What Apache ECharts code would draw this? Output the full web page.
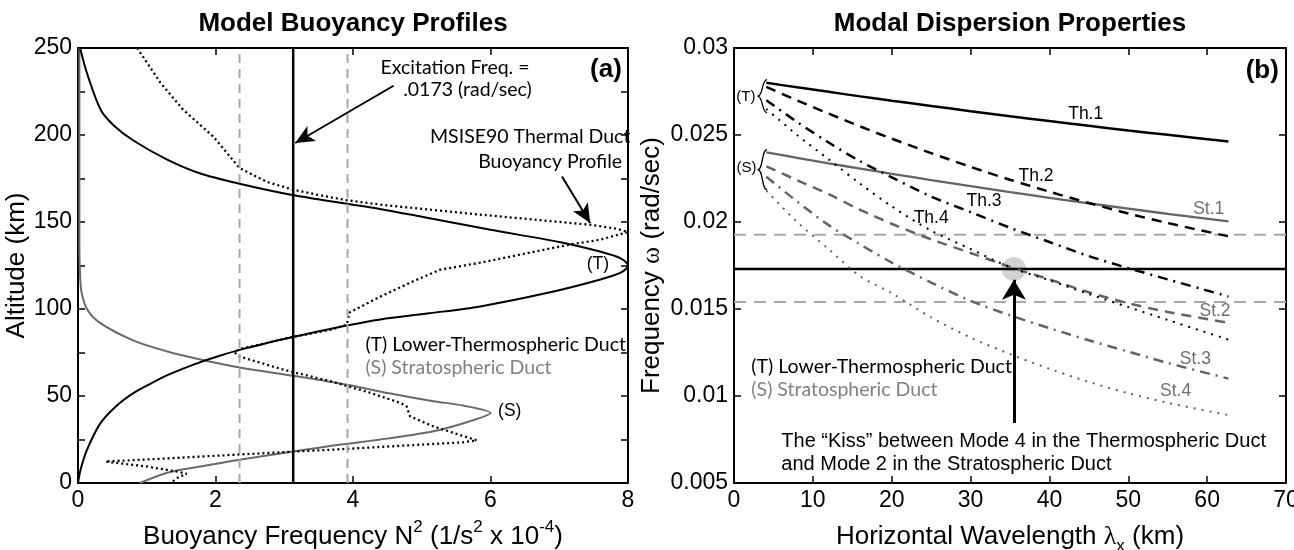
<!DOCTYPE html>
<html>
<head>
<meta charset="utf-8">
<script src="https://cdn.jsdelivr.net/npm/echarts@6/dist/echarts.min.js"></script>
<style>
html, body { margin: 0; padding: 0; background: #fff; }
#chart { width: 1294px; height: 550px; }
</style>
</head>
<body>
<div id="chart"></div>
<script>
// ---- (a) buoyancy profiles: N^2 (x 1e-4 1/s^2) against altitude (km)
const altRange = [0, 250]
const tDuctN2 = [0.03, 0.13, 0.33, 0.52, 0.8, 1.29, 1.77, 2.35, 3.12, 3.91, 4.39, 5.0, 6.0, 7.0, 7.59, 7.9, 8.0, 7.9, 7.6, 6.8, 5.85, 5.1, 4.4, 3.91, 3.14, 2.75, 2.35, 2.05, 1.78, 1.55, 1.3, 1.05, 0.8, 0.55, 0.32, 0.13, 0.04, 0]
const tDuctAlt = [250, 235.6, 214.5, 205.5, 197, 186, 178, 172, 165.5, 160.5, 157.5, 153, 145.5, 138.5, 133, 129, 125, 121, 117, 109, 101.5, 97.5, 94, 90.5, 84, 80.5, 76.5, 73, 69.5, 66, 62, 57, 51.5, 44, 34, 19, 8, 0]
const sDuctN2 = [0.02, 0.02, 0.03, 0.05, 0.13, 0.32, 0.8, 1.3, 1.78, 2.35, 3.15, 3.91, 4.6, 5.17, 5.6, 6.0, 5.7, 5.17, 4.5, 3.8, 3.15, 2.35, 1.78, 1.3, 0.9]
const sDuctAlt = [250, 135, 120, 110, 100, 92, 82, 75.6, 71, 66.4, 61.5, 56.5, 51, 47, 44.5, 40.2, 35.5, 29.7, 25.5, 22, 18.2, 13.4, 9.5, 5.9, 0]
const msisN2 = [0.86, 1.2, 1.53, 1.97, 2.35, 2.75, 3.13, 3.5, 3.91, 4.5, 5.65, 6.6, 7.45, 7.85, 8.0, 7.59, 7.15, 5.85, 5.27, 4.88, 4.39, 3.95, 3.91, 3.67, 3.13, 2.75, 2.35, 2.28, 2.33, 2.45, 3.0, 3.67, 4.2, 4.69, 4.78, 4.83, 5.17, 5.8, 5.6, 3.67, 2.35, 1.0, 0.4, 0.5, 1.0, 1.45, 1.58, 1.45, 1.35]
const msisAlt = [250, 230, 214.5, 199, 181, 173, 168.6, 165.5, 162.5, 159.5, 155, 151.5, 148.4, 146, 144.2, 139.8, 137, 126.6, 122.6, 116, 107, 98, 91, 88, 84, 80.5, 77, 75, 73, 71.5, 65, 58.5, 52.5, 46, 44, 38.3, 32.5, 24.5, 23.4, 19.1, 16.4, 13.5, 12.4, 11.8, 9.5, 6.5, 5.3, 3, 0]
const excitationN2 = 3.13
const boundN2 = [2.35, 3.92]

// ---- (b) modal dispersion: frequency (rad/sec) against horizontal wavelength (km)
const lambdaRange = [0, 70]
const lambdaKm = [4.1, 8, 12, 16, 20, 25, 30, 35, 40, 45, 50, 55, 62.7]
const th1 = [0.0280, 0.02774, 0.02748, 0.02722, 0.02697, 0.02667, 0.02637, 0.02608, 0.0258, 0.02553, 0.02526, 0.02501, 0.02463]
const th2 = [0.02776, 0.02699, 0.02623, 0.02549, 0.02479, 0.02396, 0.02317, 0.02243, 0.02174, 0.02109, 0.02049, 0.01994, 0.01918]
const th3 = [0.0270, 0.02575, 0.02457, 0.02349, 0.02257, 0.02146, 0.02057, 0.01967, 0.01885, 0.01804, 0.01735, 0.0167, 0.01572]
const th4 = [0.0265, 0.0250, 0.0236, 0.0222, 0.0209, 0.0195, 0.01845, 0.0174, 0.01665, 0.01586, 0.01511, 0.01437, 0.01324]
const st1 = [0.0240, 0.02369, 0.02337, 0.02307, 0.02277, 0.02241, 0.02206, 0.02172, 0.02139, 0.02107, 0.02077, 0.02047, 0.02004]
const st2 = [0.0232, 0.0224, 0.0216, 0.0207, 0.0199, 0.0190, 0.01822, 0.01742, 0.0167, 0.01596, 0.01533, 0.01483, 0.0142]
const st3 = [0.0226, 0.02118, 0.01982, 0.01871, 0.01767, 0.01652, 0.01547, 0.01464, 0.0139, 0.0132, 0.01255, 0.0119, 0.0110]
const st4 = [0.0218, 0.0200, 0.01844, 0.01688, 0.01591, 0.01452, 0.01336, 0.01241, 0.01156, 0.01081, 0.01016, 0.00961, 0.0089]
const excitationOmega = 0.0173
const boundOmega = [0.0154, 0.01927]
const kissPoint = [35.5, 0.0173]

const HV = 'Liberation Sans, Arial, sans-serif'
const MY = 'Lato, Open Sans, sans-serif'
const GRAY = '#646464'

const zip = (xs, ys) => xs.map((x, i) => [x, ys[i]])

function valueAxis (grid, pos, min, max, interval, showLabel, fmt) {
  return {
    type: 'value', gridIndex: grid, position: pos, min, max, interval,
    axisLine: { onZero: false, lineStyle: { color: '#000', width: 2 } },
    axisTick: { inside: true, length: 7, lineStyle: { color: '#000', width: 1.5 } },
    axisLabel: { show: showLabel, color: '#000', fontFamily: HV, fontSize: 23, margin: 6, formatter: fmt },
    splitLine: { show: false }
  }
}

function line (ax, data, color, width, type, smooth) {
  return {
    type: 'line', xAxisIndex: ax, yAxisIndex: ax, data, symbol: 'none', smooth: smooth || false,
    lineStyle: { color, width, type: type || 'solid' }, silent: true, z: 3
  }
}

const arrowLine = (coords, size, w) => ({
  silent: true, symbol: ['none', 'arrow'], symbolSize: size,
  label: { show: false }, lineStyle: { color: '#000', width: w, type: 'solid' },
  data: coords.map(c => [{ coord: c[0] }, { coord: c[1] }])
})

const xA = valueAxis(0, 'bottom', 0, 8, 2, true)
xA.name = '{a|Buoyancy Frequency N}{s|2}{a| (1/s}{s|2}{a| x 10}{s|-4}{a|)}'
xA.nameLocation = 'middle'
xA.nameGap = 36
xA.nameTextStyle = {
  rich: {
    a: { fontFamily: HV, fontSize: 26, lineHeight: 36, color: '#000' },
    s: { fontFamily: HV, fontSize: 17, lineHeight: 22, verticalAlign: 'top', color: '#000' }
  }
}
const yA = valueAxis(0, 'left', 0, 250, 25, true, v => (v % 50 === 0 ? String(v) : ''))
yA.name = 'Altitude (km)'
yA.nameLocation = 'middle'
yA.nameGap = 43
yA.nameTextStyle = { fontFamily: HV, fontSize: 26, color: '#000' }

const xB = valueAxis(1, 'bottom', 0, 70, 10, true)
xB.name = '{a|Horizontal Wavelength }{l|λ}{b|x}{a| (km)}'
xB.nameLocation = 'middle'
xB.nameGap = 36
xB.nameTextStyle = {
  rich: {
    a: { fontFamily: HV, fontSize: 26, lineHeight: 36, color: '#000' },
    l: { fontFamily: 'Liberation Serif, serif', fontSize: 26, lineHeight: 36, color: '#000' },
    b: { fontFamily: HV, fontSize: 17, lineHeight: 17, verticalAlign: 'bottom', color: '#000' }
  }
}
const yB = valueAxis(1, 'left', 0.005, 0.03, 0.005, true, v => String(+v.toFixed(3)))
yB.name = '{a|Frequency }{w|ω}{a| (rad/sec)}'
yB.nameLocation = 'middle'
yB.nameGap = 69
yB.nameTextStyle = {
  rich: {
    a: { fontFamily: HV, fontSize: 26, color: '#000' },
    w: { fontFamily: 'Liberation Serif, serif', fontSize: 26, color: '#000' }
  }
}

const option = {
  animation: false,
  backgroundColor: '#fff',
  title: [
    { text: 'Model Buoyancy Profiles', left: 353, top: 11, textAlign: 'center', padding: 0,
      textStyle: { fontFamily: HV, fontSize: 26, fontWeight: 'bold', color: '#000' } },
    { text: 'Modal Dispersion Properties', left: 1010, top: 11, textAlign: 'center', padding: 0,
      textStyle: { fontFamily: HV, fontSize: 26, fontWeight: 'bold', color: '#000' } }
  ],
  grid: [
    { left: 78, top: 48, width: 550, height: 435, containLabel: false, outerBoundsMode: 'none' },
    { left: 734, top: 48, width: 552, height: 435, containLabel: false, outerBoundsMode: 'none' }
  ],
  xAxis: [xA, valueAxis(0, 'top', 0, 8, 2, false), xB, valueAxis(1, 'top', 0, 70, 10, false)],
  yAxis: [yA, valueAxis(0, 'right', 0, 250, 25, false), yB, valueAxis(1, 'right', 0.005, 0.03, 0.005, false)],
  series: [
    // panel (a)
    line(0, zip(sDuctN2, sDuctAlt), '#6a6a6a', 2, 'solid', 0.3),
    line(0, zip(tDuctN2, tDuctAlt), '#000', 2, 'solid', 0.3),
    line(0, zip(msisN2, msisAlt), '#000', 2.3, [2, 3]),
    line(0, [[boundN2[0], altRange[0]], [boundN2[0], altRange[1]]], '#a8a8a8', 2, [9, 6]),
    line(0, [[boundN2[1], altRange[0]], [boundN2[1], altRange[1]]], '#a8a8a8', 2, [9, 6]),
    Object.assign(line(0, [[excitationN2, altRange[0]], [excitationN2, altRange[1]]], '#000', 2.5), {
      markLine: arrowLine([[[4.59, 228.3], [3.16, 195.4]], [[7.04, 176.2], [7.45, 149.4]]], [13, 19], 2)
    }),
    // panel (b)
    {
      type: 'scatter', xAxisIndex: 2, yAxisIndex: 2, data: [kissPoint], symbolSize: 24,
      itemStyle: { color: 'rgba(185,185,185,0.8)' }, silent: true, z: 1
    },
    line(2, [[lambdaRange[0], boundOmega[0]], [lambdaRange[1], boundOmega[0]]], '#a8a8a8', 2, [12, 8]),
    line(2, [[lambdaRange[0], boundOmega[1]], [lambdaRange[1], boundOmega[1]]], '#a8a8a8', 2, [12, 8]),
    Object.assign(line(2, [[lambdaRange[0], excitationOmega], [lambdaRange[1], excitationOmega]], '#000', 2.5), {
      markLine: arrowLine([[[35.5, 0.00845], [35.5, 0.01668]]], [18, 20], 3)
    }),
    line(2, zip(lambdaKm, st1), GRAY, 2.3, 'solid', 0.3),
    line(2, zip(lambdaKm, st2), GRAY, 2.5, [10, 7], 0.3),
    line(2, zip(lambdaKm, st3), GRAY, 2.5, [10, 6, 2, 6], 0.3),
    line(2, zip(lambdaKm, st4), GRAY, 2, [2, 6], 0.3),
    line(2, zip(lambdaKm, th1), '#000', 2.5, 'solid', 0.3),
    line(2, zip(lambdaKm, th2), '#000', 2.5, [10, 7], 0.3),
    line(2, zip(lambdaKm, th3), '#000', 2.5, [10, 6, 2, 6], 0.3),
    line(2, zip(lambdaKm, th4), '#000', 2, [2, 6], 0.3)
  ]
}

const chart = echarts.init(document.getElementById('chart'))
chart.setOption(option)

// annotations, placed in data coordinates
const notes = [
  [0, 'Excitation Freq. =', [4.40, 238.7], MY, 19.5, '#000', 'left'],
  [0, '.0173 (rad/sec)', [4.73, 226], MY, 19.5, '#000', 'left'],
  [0, 'MSISE90 Thermal Duct', [5.12, 199], MY, 19.5, '#000', 'left'],
  [0, 'Buoyancy Profile', [5.82, 184.7], MY, 19.5, '#000', 'left'],
  [0, '(T)', [7.4, 125.5], HV, 17.5, '#000', 'left'],
  [0, '(S)', [6.11, 41], HV, 17.5, '#000', 'left'],
  [0, '(T) Lower-Thermospheric Duct', [4.18, 79.5], MY, 19.5, '#000', 'left'],
  [0, '(S) Stratospheric Duct', [4.18, 66.3], MY, 19.5, '#808080', 'left'],
  [2, '(T) Lower-Thermospheric Duct', [2.2, 0.0117], MY, 19.5, '#000', 'left'],
  [2, '(S) Stratospheric Duct', [2.2, 0.01036], MY, 19.5, '#808080', 'left'],
  [2, 'The “Kiss” between Mode 4 in the Thermospheric Duct', [6.0, 0.00739], HV, 20, '#000', 'left'],
  [2, 'and Mode 2 in the Stratospheric Duct', [6.0, 0.00605], HV, 20, '#000', 'left'],
  [2, 'Th.1', [44.6, 0.02617], HV, 17.5, '#000', 'center'],
  [2, 'Th.2', [38.3, 0.02262], HV, 17.5, '#000', 'center'],
  [2, 'Th.3', [31.7, 0.02118], HV, 17.5, '#000', 'center'],
  [2, 'Th.4', [25.0, 0.02024], HV, 17.5, '#000', 'center'],
  [2, 'St.1', [60.2, 0.02071], HV, 17.5, '#707070', 'center'],
  [2, 'St.2', [61.0, 0.01486], HV, 17.5, '#707070', 'center'],
  [2, 'St.3', [58.5, 0.01209], HV, 17.5, '#707070', 'center'],
  [2, 'St.4', [56.0, 0.01026], HV, 17.5, '#707070', 'center'],
  [2, '(T)', [1.5, 0.02722], HV, 15, '#000', 'center'],
  [2, '(S)', [1.6, 0.02312], HV, 15, '#000', 'center']
]
const panelTags = [[0, '(a)', [7.91, 237.5]], [2, '(b)', [69.1, 0.02866]]]
const braces = [[3.0, 4.2, 0.02818, 0.02628], [3.0, 4.2, 0.02416, 0.02186]]

const toPx = (ax, pt) => chart.convertToPixel({ xAxisIndex: ax, yAxisIndex: ax }, pt)
const graphic = []
notes.forEach(([ax, text, at, font, size, color, align]) => {
  const p = toPx(ax, at)
  graphic.push({
    type: 'text', x: p[0], y: p[1], silent: true, z: 100,
    style: { text, fontFamily: font, fontSize: size, fill: color, textAlign: align, textVerticalAlign: 'middle', align, verticalAlign: 'middle' }
  })
})
panelTags.forEach(([ax, text, at]) => {
  const p = toPx(ax, at)
  graphic.push({
    type: 'text', x: p[0], y: p[1], silent: true, z: 100,
    style: { text, fontFamily: HV, fontSize: 26, fontWeight: 'bold', fill: '#000', textAlign: 'right', textVerticalAlign: 'middle', align: 'right', verticalAlign: 'middle' }
  })
})
braces.forEach(([x0, x1, yTop, yBot]) => {
  const a = toPx(2, [x0, yTop])
  const b = toPx(2, [x1, yBot])
  const mid = (a[1] + b[1]) / 2
  const stem = (a[0] + b[0]) / 2
  const st = { stroke: '#000', lineWidth: 1.3, fill: null }
  graphic.push({ type: 'bezierCurve', silent: true, z: 100, style: st,
    shape: { x1: b[0], y1: a[1], cpx1: stem - 1, cpy1: a[1], cpx2: stem + 1, cpy2: mid, x2: a[0], y2: mid } })
  graphic.push({ type: 'bezierCurve', silent: true, z: 100, style: st,
    shape: { x1: a[0], y1: mid, cpx1: stem + 1, cpy1: mid, cpx2: stem - 1, cpy2: b[1], x2: b[0], y2: b[1] } })
})
chart.setOption({ graphic })
</script>
</body>
</html>
